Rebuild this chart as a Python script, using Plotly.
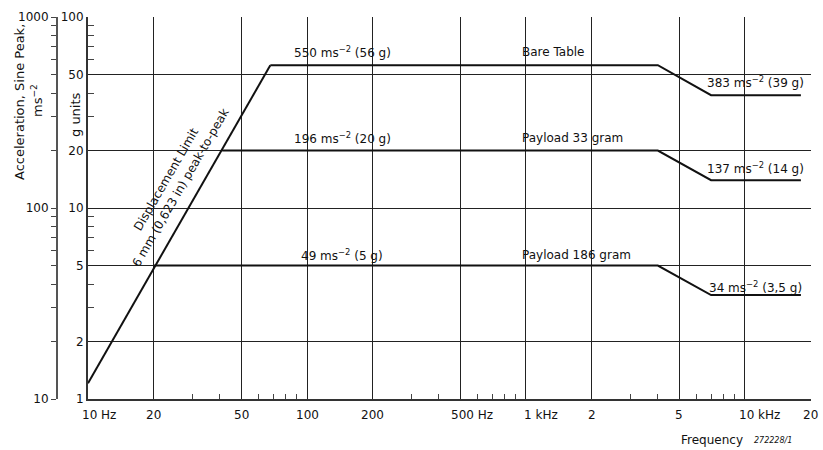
import math
import plotly.graph_objects as go

# Vibration exciter performance chart: acceleration (g / ms^-2) vs frequency
FONT = "DejaVu Sans"
W, H = 823, 450
PLOT_L, PLOT_R, PLOT_T, PLOT_B = 88, 811, 17, 399

# Displacement-limited segment (6 mm peak-to-peak)
disp_freq = [10, 68]
disp_g = [1.21, 56]

# Bare table
bare_freq = [68, 4000, 7000, 18000]
bare_g = [56, 56, 39, 39]

# Payload 33 gram
p33_freq = [41, 4000, 7000, 18000]
p33_g = [20, 20, 14, 14]

# Payload 186 gram
p186_freq = [20, 4000, 7000, 18000]
p186_g = [5, 5, 3.5, 3.5]

# Axis ticks
x_grid = [20, 50, 100, 200, 500, 1000, 2000, 5000, 10000, 20000]
x_labels = [(10, "10", " Hz"), (20, "20", ""), (50, "50", ""), (100, "100", ""),
            (200, "200", ""), (500, "500", " Hz"), (1000, "1", " kHz"),
            (2000, "2", ""), (5000, "5", ""), (10000, "10", " kHz"), (20000, "20", "")]
x_minor = [m * d for d in (10, 100, 1000) for m in (3, 4, 6, 7, 8, 9)]
g_ticks = [1, 2, 5, 10, 20, 50, 100]
g_minor = [3, 4, 6, 7, 8, 9, 30, 40, 60, 70, 80, 90]
ms_ticks = [10, 100, 1000]
ms_minor = [m * d for d in (10, 100) for m in range(2, 10)]

# Curve labels: (text, freq, g, anchor)
curve_labels = [
    ("550 ms<sup>−2</sup> (56 g)", 146, 65.6, "center"),
    ("Bare Table", 940, 65.6, "left"),
    ("383 ms<sup>−2</sup> (39 g)", 6560, 45.7, "left"),
    ("196 ms<sup>−2</sup> (20 g)", 146, 23.3, "center"),
    ("Payload 33 gram", 940, 23.3, "left"),
    ("137 ms<sup>−2</sup> (14 g)", 6560, 16.2, "left"),
    ("49 ms<sup>−2</sup> (5 g)", 145, 5.67, "center"),
    ("Payload 186 gram", 940, 5.67, "left"),
    ("34 ms<sup>−2</sup> (3,5 g)", 6700, 3.86, "left"),
]

# Slanted text beside the displacement limit: (text, freq, g)
disp_labels = [
    ("Displacement Limit", 23.3, 14.0),
    ("6 mm (0,623 in) peak-to-peak", 26.9, 12.65),
]

line_style = dict(color="#111111", width=2)

fig = go.Figure()
for fx, gy in [(disp_freq, disp_g), (bare_freq, bare_g), (p33_freq, p33_g), (p186_freq, p186_g)]:
    fig.add_trace(go.Scatter(x=fx, y=gy, mode="lines", line=line_style,
                             showlegend=False, hoverinfo="skip"))

# ms^-2 scale companion trace (kept invisible, it only carries the second axis)
fig.add_trace(go.Scatter(x=[100], y=[100], yaxis="y2", mode="markers",
                         marker=dict(opacity=0), showlegend=False, hoverinfo="skip"))

def px_x(px):
    return px / W

def px_y(py):
    return (PLOT_B - py) / (PLOT_B - PLOT_T)

ann = []
for text, f, g, anchor in curve_labels:
    ann.append(dict(x=math.log10(f), y=math.log10(g), xref="x", yref="y", text=text,
                    showarrow=False, xanchor=anchor, yanchor="middle",
                    font=dict(family=FONT, size=12, color="#111")))

for text, f, g in disp_labels:
    ann.append(dict(x=math.log10(f), y=math.log10(g), xref="x", yref="y", text=text,
                    showarrow=False, textangle=-60, xanchor="center", yanchor="middle",
                    xshift=-2, yshift=1,
                    font=dict(family=FONT, size=12, color="#111")))

# Frequency tick labels: numeric part centred on its grid line
digit_w = 7.63
for v, num, unit in x_labels:
    if unit:
        ann.append(dict(x=math.log10(v), y=px_y(415), xref="x", yref="paper",
                        text=num + unit, showarrow=False, xanchor="left", yanchor="middle",
                        xshift=-len(num) * digit_w / 2,
                        font=dict(family=FONT, size=12, color="#111")))
    else:
        ann.append(dict(x=math.log10(v), y=px_y(415), xref="x", yref="paper",
                        text=num, showarrow=False, xanchor="center", yanchor="middle",
                        font=dict(family=FONT, size=12, color="#111")))

# Axis titles
ann += [
    dict(x=px_x(19), y=px_y(102), xref="paper", yref="paper", text="Acceleration, Sine Peak,",
         textangle=-90, showarrow=False, xanchor="center", yanchor="middle",
         font=dict(family=FONT, size=13, color="#111")),
    dict(x=px_x(37), y=px_y(101), xref="paper", yref="paper", text="ms<sup>−2</sup>",
         textangle=-90, showarrow=False, xanchor="center", yanchor="middle",
         font=dict(family=FONT, size=13, color="#111")),
    dict(x=px_x(75), y=px_y(115), xref="paper", yref="paper", text="g units",
         textangle=-90, showarrow=False, xanchor="center", yanchor="middle",
         font=dict(family=FONT, size=13, color="#111")),
    dict(x=px_x(712), y=px_y(440), xref="paper", yref="paper", text="Frequency",
         showarrow=False, xanchor="center", yanchor="middle",
         font=dict(family=FONT, size=12, color="#111")),
    dict(x=px_x(752), y=px_y(440), xref="paper", yref="paper", text="<i>272228/1</i>",
         showarrow=False, xanchor="left", yanchor="middle",
         font=dict(family=FONT, size=8, color="#111")),
]

fig.update_layout(
    width=W, height=H,
    margin=dict(l=0, r=0, t=PLOT_T, b=H - PLOT_B, pad=0),
    paper_bgcolor="white", plot_bgcolor="white",
    font=dict(family=FONT, size=12, color="#111"),
    annotations=ann,
    xaxis=dict(
        type="log", range=[1, math.log10(20000) + 0.0004],
        domain=[PLOT_L / W, PLOT_R / W], anchor="y",
        tickvals=x_grid, showticklabels=False, ticks="",
        showgrid=True, gridcolor="#222", gridwidth=1,
        showline=True, linecolor="#333", linewidth=2,
        zeroline=False, automargin=False,
        minor=dict(tickvals=x_minor, ticks="inside", ticklen=5, tickcolor="#444",
                   tickwidth=1, showgrid=False),
    ),
    yaxis=dict(
        type="log", range=[0, 2.0006], anchor="x", side="left",
        tickvals=g_ticks, ticktext=[str(v) for v in g_ticks], ticks="",
        showgrid=True, gridcolor="#222", gridwidth=1,
        showline=True, linecolor="#333", linewidth=2,
        zeroline=False, automargin=False,
        tickfont=dict(family=FONT, size=12, color="#111"),
        minor=dict(tickvals=g_minor, ticks="inside", ticklen=6, tickcolor="#444",
                   tickwidth=1, showgrid=False),
    ),
    yaxis2=dict(
        type="log", range=[1, 3.0006], overlaying="y", anchor="free",
        position=57 / W, side="left",
        tickvals=ms_ticks, ticktext=[str(v) for v in ms_ticks],
        ticks="outside", ticklen=5, tickcolor="#444", tickwidth=1,
        showgrid=False, showline=True, linecolor="#555", linewidth=2,
        zeroline=False, automargin=False,
        tickfont=dict(family=FONT, size=12, color="#111"),
        minor=dict(tickvals=ms_minor, ticks="outside", ticklen=5, tickcolor="#444",
                   tickwidth=1, showgrid=False),
    ),
)

fig.write_html("out.html")
